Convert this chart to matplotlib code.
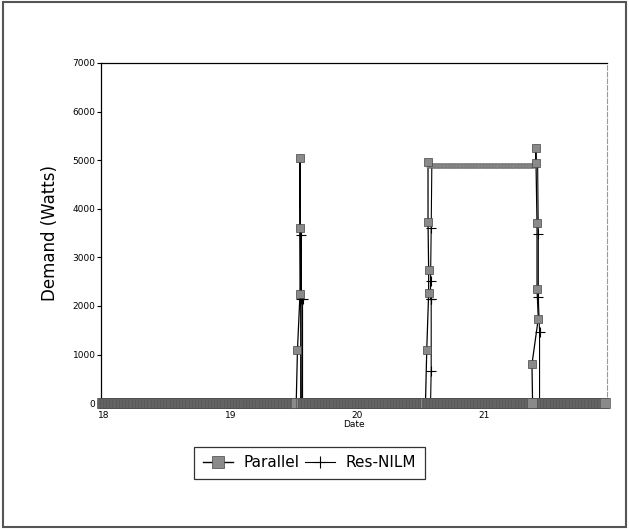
import numpy as np
import matplotlib
matplotlib.use("Agg")
import matplotlib.pyplot as plt
from matplotlib.patches import Rectangle

# ---- data (days of month, Watts) ----
x_start, x_end = 17.98, 21.97
sample_step = 0.006  # sampling interval of the flat baseline/plateau stretches (days)

# Parallel spikes (time, value)
par_spike1_t = [19.52, 19.53, 19.55, 19.55, 19.55, 19.56]
par_spike1_v = [0, 1100, 2250, 3600, 5050, 0]
par_rise2_t = [20.54, 20.55, 20.565, 20.565, 20.56, 20.56]
par_rise2_v = [0, 1100, 2270, 2730, 3720, 4960]
par_plateau_v = 4880
par_fall3_t = [21.41, 21.41, 21.42, 21.42, 21.43, 21.38, 21.385]
par_fall3_v = [4940, 5250, 3700, 2350, 1740, 800, 0]

# Res-NILM spikes
res_spike1_t = [19.555, 19.56, 19.56, 19.57, 19.57]
res_spike1_v = [0, 3450, 2150, 2150, 0]
res_rise2_t = [20.58, 20.585, 20.585, 20.58, 20.58, 20.585, 20.59]
res_rise2_v = [0, 660, 2150, 2150, 2520, 3600, 4880]
res_plateau_v = 4880
res_fall3_t = [21.425, 21.43, 21.43, 21.44, 21.44]
res_fall3_v = [4880, 3470, 2190, 1470, 0]

y_ticks = [0, 1000, 2000, 3000, 4000, 5000, 6000, 7000]
x_ticks = [18, 19, 20, 21]
x_ticklabels = ["18", "19", "20", "21"]


def flat(t0, t1, v):
    t = np.arange(t0, t1, sample_step)
    return list(t), [v] * len(t)


base1 = flat(x_start + 0.01, 19.52, 0)
base2 = flat(19.57, 20.54, 0)
plat = flat(20.57, 21.41, par_plateau_v)
base3 = flat(21.39, x_end - 0.01, 0)
base_mid = flat(20.55, 21.39, 0)  # zero-level samples under the plateau

pt, pv = [], []
for seg in [base1, (par_spike1_t, par_spike1_v), base2, (par_rise2_t, par_rise2_v),
            plat, (par_fall3_t, par_fall3_v), base3]:
    pt += list(seg[0]); pv += list(seg[1])

rt, rv = [], []
for seg in [flat(x_start, 19.555, 0), (res_spike1_t, res_spike1_v),
            flat(19.58, 20.58, 0), (res_rise2_t, res_rise2_v),
            flat(20.60, 21.42, res_plateau_v), (res_fall3_t, res_fall3_v),
            flat(21.45, x_end, 0)]:
    rt += list(seg[0]); rv += list(seg[1])

fig = plt.figure(figsize=(6.29, 5.29), dpi=100)
ax = fig.add_axes([0.1606, 0.238, 0.804, 0.643])

sq_face, sq_edge = "#8a8a8a", "#444444"

res_idx = [i for i, v in enumerate(rv) if v not in (0, res_plateau_v)]
ax.plot(rt, rv, color="black", lw=0.8, marker="+", markersize=7,
        markeredgewidth=0.8, markevery=res_idx, zorder=2)
ax.plot(pt, pv, color="black", lw=0.9, zorder=3)
zero_t = pt + base_mid[0]
zero_v = pv + base_mid[1]
ax.plot(zero_t, zero_v, ls="none", marker="s", markersize=6.5, markerfacecolor=sq_face,
        markeredgecolor=sq_edge, markeredgewidth=0.4, clip_on=False,
        markevery=[i for i, v in enumerate(zero_v) if v == 0], zorder=4)
ax.plot(pt, pv, ls="none", marker="s", markersize=3, markerfacecolor="#9a9a9a",
        markeredgecolor="#666666", markeredgewidth=0.3,
        markevery=[i for i, v in enumerate(pv) if v == par_plateau_v], zorder=4)
ax.plot(pt, pv, ls="none", marker="s", markersize=6, markerfacecolor=sq_face,
        markeredgecolor=sq_edge, markeredgewidth=0.5, clip_on=False,
        markevery=[i for i, v in enumerate(pv) if v not in (0, par_plateau_v)], zorder=5)

ax.set_xlim(x_start, x_end)
ax.set_ylim(0, 7000)
ax.set_yticks(y_ticks)
ax.set_yticklabels([str(v) for v in y_ticks], fontsize=6.5)
ax.set_xticks(x_ticks)
ax.set_xticklabels(x_ticklabels, fontsize=6.5)
ax.tick_params(axis="y", direction="out", length=3, width=0.8, pad=1)
ax.tick_params(axis="x", length=0, pad=6)
ax.set_xlabel("Date", fontsize=6.5, labelpad=0)
ax.set_ylabel("Demand (Watts)", fontsize=12, labelpad=10)
for s in ["left", "top", "bottom"]:
    ax.spines[s].set_linewidth(0.9)
ax.spines["right"].set_color("#999999")
ax.spines["right"].set_linestyle((0, (4, 2)))
ax.spines["right"].set_linewidth(0.8)

h_par = plt.Line2D([], [], color="black", lw=1.0, marker="s", markersize=9,
                   markerfacecolor=sq_face, markeredgecolor=sq_edge, markeredgewidth=0.5)
h_res = plt.Line2D([], [], color="black", lw=0.8, marker="+", markersize=9,
                   markeredgewidth=0.8)
leg = fig.legend([h_par, h_res], ["Parallel", "Res-NILM"], loc="center",
                 bbox_to_anchor=(0.492, 0.125), ncol=2, fontsize=11,
                 frameon=True, fancybox=False, edgecolor="black",
                 handlelength=2.0, columnspacing=0.3, handletextpad=0.7,
                 borderpad=0.55)
leg.get_frame().set_linewidth(0.9)

fig.patches.append(Rectangle((0.004, 0.004), 0.992, 0.992, transform=fig.transFigure,
                             fill=False, edgecolor="#555555", linewidth=1.5))

fig.savefig("out.png", dpi=100)
